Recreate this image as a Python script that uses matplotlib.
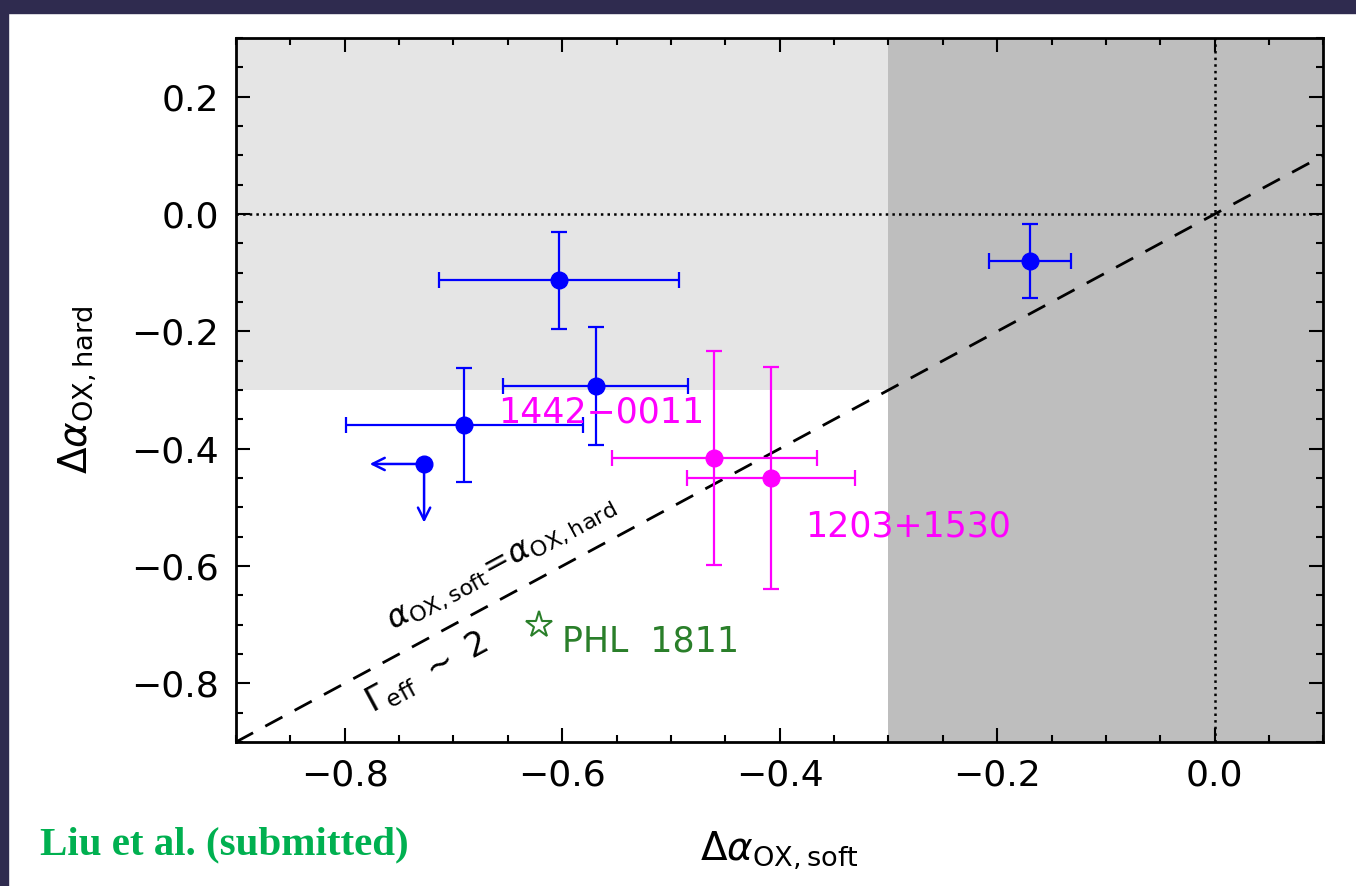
import numpy as np
import matplotlib.pyplot as plt
from matplotlib.patches import Rectangle
from matplotlib.ticker import MultipleLocator

plt.rcParams['font.family'] = ['DejaVu Sans']
plt.rcParams['mathtext.fontset'] = 'dejavusans'

# detected sources (blue)
blue_x = [-0.603, -0.569, -0.690, -0.170]
blue_y = [-0.113, -0.293, -0.360, -0.080]
blue_xerr = [0.110, 0.085, 0.109, 0.038]
blue_yerr = [0.083, 0.100, 0.097, 0.063]

# upper limit source (blue, arrows)
lim_x = [-0.727]
lim_y = [-0.426]
lim_dx = 0.05
lim_dy = 0.10

# named sources (magenta)
mag_x = [-0.460, -0.408]
mag_y = [-0.416, -0.450]
mag_xerr = [0.094, 0.077]
mag_yerr = [0.182, 0.189]
mag_names = ["1442\u22120011", "1203+1530"]
mag_label_x = [-0.659, -0.377]
mag_label_y = [-0.339, -0.532]

# PHL 1811
phl_x = [-0.621]
phl_y = [-0.701]

fig = plt.figure(figsize=(13.56, 8.86), dpi=100)

# slide background strips
fig.patches.append(Rectangle((0, 0), 8 / 1356, 1, transform=fig.transFigure,
                             color='#2f2b4f', zorder=0))
fig.patches.append(Rectangle((0, 1 - 13 / 886), 1, 13 / 886, transform=fig.transFigure,
                             color='#2f2b4f', zorder=0))

ax = fig.add_axes([0.174, 0.1625, 0.802, 0.7945])
ax.set_xlim(-0.9, 0.1)
ax.set_ylim(-0.9, 0.3)

# shaded regions
ax.axvspan(-0.3, 0.1, color='#bebebe', lw=0, zorder=0)
ax.axhspan(-0.3, 0.3, xmin=0, xmax=0.6, color='#e5e5e5', lw=0, zorder=0)

# reference lines
ax.axhline(0, color='black', ls=':', lw=1.8, zorder=1)
ax.axvline(0, color='black', ls=':', lw=1.8, zorder=1)
ax.plot([-0.9, 0.1], [-0.9, 0.1], color='black', ls=(0, (7, 5)), lw=2, zorder=1)

# data
ax.errorbar(blue_x, blue_y, xerr=blue_xerr, yerr=blue_yerr, fmt='o', color='blue',
            ms=12, elinewidth=1.6, capsize=6, capthick=1.6, zorder=3)
ax.plot(lim_x, lim_y, 'o', color='blue', ms=12, zorder=3)
for x, y in zip(lim_x, lim_y):
    ax.annotate('', xy=(x - lim_dx, y), xytext=(x, y),
                arrowprops=dict(arrowstyle='->', color='blue', lw=1.8,
                                mutation_scale=22, shrinkA=0, shrinkB=0))
    ax.annotate('', xy=(x, y - lim_dy), xytext=(x, y),
                arrowprops=dict(arrowstyle='->', color='blue', lw=1.8,
                                mutation_scale=22, shrinkA=0, shrinkB=0))

ax.errorbar(mag_x, mag_y, xerr=mag_xerr, yerr=mag_yerr, fmt='o', color='#ff00ff',
            ms=12, elinewidth=1.6, capsize=6, capthick=1.6, zorder=3)
for name, x, y in zip(mag_names, mag_label_x, mag_label_y):
    ax.text(x, y, name, color='#ff00ff', fontsize=25, ha='left', va='center', zorder=4)

ax.plot(phl_x, phl_y, marker='*', mfc='none', mec='#2a7f2a', mew=1.5, ms=20,
        ls='none', zorder=3)
ax.text(phl_x[0] + 0.021, phl_y[0] - 0.028, "PHL  1811", color='#2a7f2a',
        fontsize=25, ha='left', va='center')

# line annotations
ax.text(-0.6555, -0.597, r'$\alpha_{\rm OX,soft}\!=\!\alpha_{\rm OX,hard}$', fontsize=23,
        rotation=45, transform_rotates_text=True, rotation_mode='anchor',
        ha='center', va='center')
ax.text(-0.7245, -0.7826, r'$\Gamma_{\rm eff}\ \sim\ 2$', fontsize=24,
        rotation=45, transform_rotates_text=True, rotation_mode='anchor',
        ha='center', va='center')

# axes style
ax.xaxis.set_major_locator(MultipleLocator(0.2))
ax.xaxis.set_minor_locator(MultipleLocator(0.05))
ax.yaxis.set_major_locator(MultipleLocator(0.2))
ax.yaxis.set_minor_locator(MultipleLocator(0.05))
ax.tick_params(which='both', direction='in', top=True, right=True, width=1.5,
               labelsize=26)
ax.tick_params(which='major', length=10, pad=12)
ax.tick_params(which='minor', length=5)
for s in ax.spines.values():
    s.set_linewidth(2)

ax.set_xlabel(r'$\Delta\alpha_{\rm OX,soft}$', fontsize=28, labelpad=26)
ax.set_ylabel(r'$\Delta\alpha_{\rm OX,hard}$', fontsize=28, labelpad=24)

fig.text(40 / 1356, 1 - 845 / 886, "Liu et al. (submitted)", color='#00b050',
         fontsize=29.5, fontweight='bold', family='Liberation Serif', va='center')

fig.savefig('out.png', dpi=100)
